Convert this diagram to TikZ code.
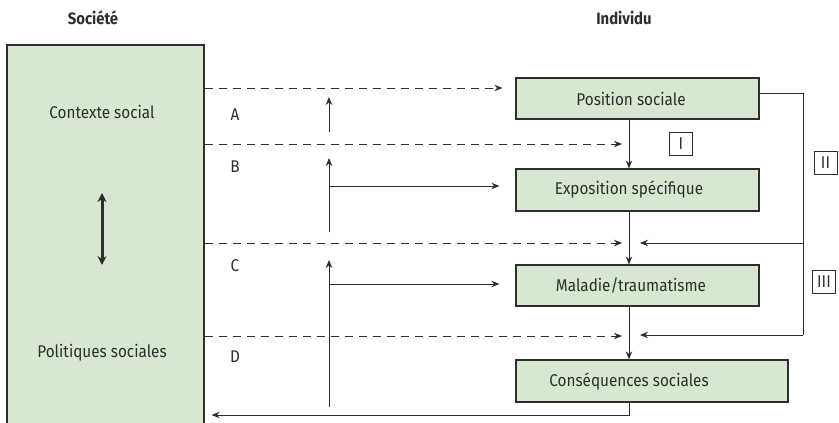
\documentclass[tikz,border=0pt]{standalone}
\usepackage{fontspec}
\setmainfont{Fira Sans}[FakeStretch=0.9]
\usetikzlibrary{arrows.meta}
\definecolor{boxfill}{HTML}{D6E8D0}
\definecolor{ink}{HTML}{2E2E2E}
\tikzset{
  every node/.style={text=ink, font=\fontsize{17}{19}\selectfont},
  box/.style={draw=ink, line width=1.2pt, fill=boxfill, rectangle, inner sep=0pt},
  flow/.style={draw=ink, line width=1pt, -{Stealth[length=8pt,width=6.5pt]}},
  plain/.style={draw=ink, line width=1pt},
  link/.style={draw=ink, line width=1pt, dash pattern=on 8pt off 6pt, -{Stealth[length=8pt,width=6.5pt]}},
  tag/.style={draw=ink, line width=1pt, rectangle, minimum width=23pt, minimum height=23pt, inner sep=0pt},
  head/.style={font=\fontsize{16.5}{18}\selectfont\bfseries}
}
\begin{document}
\begin{tikzpicture}[x=1pt, y=-1pt]
\useasboundingbox (0,0) rectangle (839,423);
\clip (0,0) rectangle (839,423);

% column headings
\node[head] (hsoc) at (93,18) {Société};
\node[head] (hind) at (624,18) {Individu};

% society block (runs off the bottom edge)
\node[box, minimum width=197pt, minimum height=390pt] (soc) at (105.5,240) {};
\node (ctx) at (102,112) {Contexte social};
\node (pol) at (102,353) {Politiques sociales};
\coordinate (dtop) at (102,193);
\coordinate (dbot) at (102,265);
\draw[draw=ink, line width=3pt, {Stealth[length=9pt,width=9pt]}-{Stealth[length=9pt,width=9pt]}] (dtop) -- (dbot);

% individual pathway
\node[box, minimum width=243pt, minimum height=41pt] (pos) at (637.5,98.5) {};
\node (tpos) at (631,98.5) {Position sociale};
\node[box, minimum width=243pt, minimum height=42pt] (expo) at (637.5,190) {};
\node (texpo) at (629,190) {Exposition spécifique};
\node[box, minimum width=243pt, minimum height=41pt] (mal) at (637.5,285.5) {};
\node (tmal) at (631,285.5) {Maladie/traumatisme};
\node[box, minimum width=272pt, minimum height=42pt] (cons) at (652,381) {};
\node (tcons) at (629,381) {Conséquences sociales};

% main vertical chain
\draw[flow] (pos.south -| 629,0) -- (expo.north -| 629,0);
\draw[flow] (expo.south -| 629,0) -- (mal.north -| 629,0);
\draw[flow] (mal.south -| 629,0) -- (cons.north -| 629,0);

% feedback to society
\coordinate (back) at (629,415);
\draw[flow, shorten >=7pt] (cons.south -| back) -- (back) -- (back -| soc.east);

% dashed influences from society
\coordinate (jb) at (622,144);
\coordinate (jc) at (622,243);
\coordinate (jd) at (622,336);
\draw[link, shorten >=13pt] (soc.east |- 0,88) -- (pos.west |- 0,88);
\draw[link] (soc.east |- jb) -- (jb);
\draw[link] (soc.east |- jc) -- (jc);
\draw[link] (soc.east |- jd) -- (jd);

% right-hand loop
\coordinate (r1) at (803,93);
\coordinate (r2) at (803,243);
\coordinate (r3) at (803,335);
\coordinate (e2) at (640,243);
\coordinate (e3) at (640,335);
\draw[plain] (pos.east |- r1) -- (r1) -- (r3);
\draw[flow] (r2) -- (e2);
\draw[flow] (r3) -- (e3);

% policy entry points
\coordinate (a1) at (329,132);
\coordinate (a2) at (329,97);
\coordinate (b1) at (329,232);
\coordinate (b2) at (329,158);
\coordinate (bb) at (329,186);
\coordinate (c1) at (329,407);
\coordinate (c2) at (329,260);
\coordinate (cb) at (329,284);
\draw[flow] (a1) -- (a2);
\draw[flow] (b1) -- (b2);
\draw[flow, shorten >=16pt] (bb) -- (bb -| expo.west);
\draw[flow] (c1) -- (c2);
\draw[flow, shorten >=16pt] (cb) -- (cb -| mal.west);

% level letters
\node (la) at (235,115) {A};
\node (lb) at (235,167) {B};
\node (lc) at (235,266) {C};
\node (ld) at (235,357) {D};

% pathway markers
\node[tag] (m1) at (681,143.5) {I};
\node[tag] (m2) at (825.5,162.5) {II};
\node[tag] (m3) at (824,281.5) {III};
\end{tikzpicture}
\end{document}
